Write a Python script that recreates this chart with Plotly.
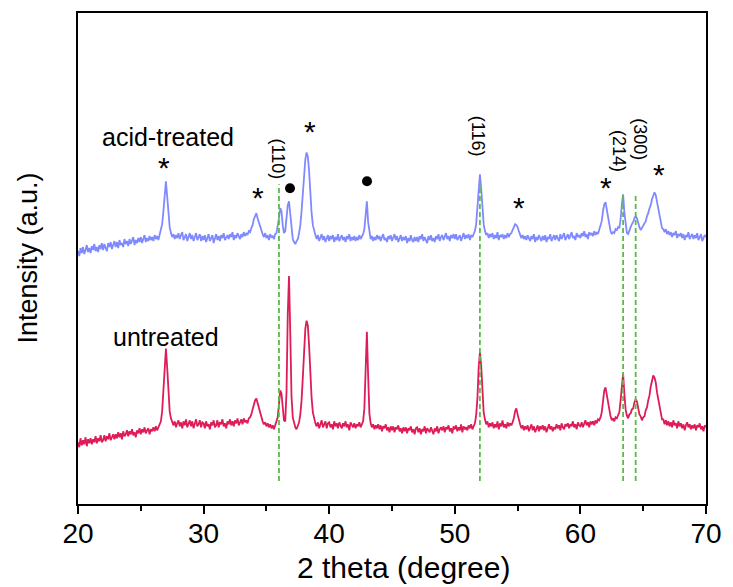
import numpy as np
import plotly.graph_objects as go

# ---------------- data ----------------
two_theta = np.round(np.arange(20.0, 70.0001, 0.1), 1)

acid_treated = [
    254, 249, 257, 252, 258, 251, 255, 260, 253, 257,
    252, 259, 255, 261, 254, 258, 253, 260, 256, 262,
    255, 261, 257, 254, 262, 258, 263, 256, 260, 264,
    258, 263, 257, 265, 260, 262, 258, 266, 261, 264,
    259, 266, 261, 264, 268, 260, 265, 262, 267, 263,
    268, 262, 266, 270, 263, 267, 264, 269, 265, 268,
    264, 270, 266, 269, 265, 270, 273, 281, 294, 313,
    324, 309, 290, 278, 272, 268, 271, 266, 270, 267,
    272, 266, 270, 273, 265, 269, 271, 264, 268, 272,
    266, 270, 264, 269, 272, 265, 268, 271, 264, 269,
    265, 270, 263, 268, 271, 264, 267, 270, 262, 268,
    271, 265, 269, 264, 270, 267, 272, 265, 268, 270,
    266, 271, 268, 273, 265, 270, 267, 272, 269, 266,
    271, 268, 273, 269, 272, 270, 274, 273, 277, 280,
    286, 289, 292, 287, 283, 277, 274, 271, 268, 272,
    267, 270, 265, 271, 268, 269, 266, 271, 272, 278,
    287, 297, 294, 280, 272, 274, 286, 300, 304, 289,
    274, 266, 263, 261, 264, 266, 272, 280, 294, 311,
    330, 346, 353, 349, 334, 311, 292, 280, 273, 270,
    266, 270, 264, 268, 271, 265, 269, 263, 267, 270,
    264, 269, 266, 270, 263, 268, 265, 271, 264, 267,
    270, 265, 268, 263, 269, 266, 271, 264, 268, 265,
    269, 264, 268, 265, 270, 266, 268, 271, 276, 288,
    304, 283, 271, 266, 269, 264, 268, 265, 270, 266,
    269, 264, 268, 271, 265, 267, 263, 269, 266, 270,
    264, 268, 271, 265, 269, 263, 267, 270, 264, 268,
    265, 269, 262, 267, 264, 270, 265, 263, 268, 264,
    268, 263, 269, 266, 271, 264, 268, 265, 262, 269,
    265, 270, 264, 267, 263, 269, 266, 271, 264, 268,
    270, 265, 268, 272, 266, 269, 264, 270, 267, 271,
    266, 271, 265, 268, 270, 264, 269, 272, 266, 270,
    267, 271, 265, 270, 268, 272, 274, 281, 297, 319,
    331, 317, 296, 281, 274, 270, 272, 267, 271, 268,
    272, 266, 270, 267, 273, 265, 270, 268, 271, 266,
    270, 267, 272, 268, 271, 272, 275, 278, 281, 280,
    278, 274, 271, 267, 270, 266, 269, 265, 270, 267,
    264, 269, 266, 271, 263, 268, 265, 270, 266, 264,
    269, 265, 270, 263, 268, 266, 271, 264, 267, 270,
    265, 270, 267, 264, 271, 266, 269, 272, 265, 268,
    271, 266, 270, 273, 267, 269, 265, 272, 268, 270,
    267, 272, 269, 274, 268, 271, 266, 273, 270, 272,
    269, 274, 270, 273, 271, 275, 278, 284, 294, 301,
    303, 296, 287, 279, 274, 271, 273, 272, 276, 275,
    278, 277, 286, 301, 311, 293, 279, 272, 271, 276,
    278, 281, 283, 287, 289, 287, 281, 278, 275, 277,
    279, 282, 284, 289, 292, 297, 300, 306, 310, 313,
    310, 303, 294, 287, 281, 277, 276, 273, 276, 271,
    274, 270, 273, 268, 272, 270, 274, 267, 271, 269,
    272, 267, 271, 265, 270, 268, 273, 266, 269, 271,
    266, 270, 267, 272, 265, 269, 271, 264, 268, 270,
    268,
]

untreated = [
    62, 57, 66, 59, 64, 60, 67, 58, 65, 61,
    66, 60, 65, 62, 68, 61, 66, 63, 69, 62,
    64, 69, 63, 68, 65, 71, 64, 67, 70, 65,
    70, 66, 72, 67, 71, 65, 73, 68, 70, 74,
    68, 73, 70, 75, 69, 72, 67, 74, 71, 76,
    70, 75, 72, 77, 71, 74, 76, 70, 75, 73,
    77, 73, 78, 74, 77, 79, 83, 93, 113, 140,
    156, 137, 109, 93, 86, 82, 79, 83, 77, 81,
    84, 78, 82, 76, 83, 79, 85, 77, 81, 84,
    78, 83, 76, 81, 85, 78, 80, 84, 77, 82,
    81, 76, 83, 78, 80, 75, 82, 79, 84, 77,
    79, 84, 77, 82, 80, 85, 78, 81, 76, 83,
    80, 85, 79, 83, 78, 84, 81, 86, 79, 82,
    85, 80, 86, 82, 84, 81, 86, 87, 90, 95,
    100, 104, 106, 101, 96, 90, 87, 83, 80, 82,
    78, 81, 77, 80, 76, 79, 75, 79, 81, 87,
    100, 114, 111, 95, 84, 83, 112, 190, 229, 172,
    108, 87, 80, 77, 75, 78, 82, 90, 104, 127,
    153, 176, 184, 179, 159, 130, 106, 92, 85, 81,
    78, 82, 76, 81, 84, 77, 80, 83, 76, 81,
    82, 77, 80, 75, 83, 78, 81, 76, 82, 79,
    76, 81, 78, 83, 77, 80, 74, 82, 79, 77,
    81, 76, 80, 78, 82, 77, 80, 83, 96, 134,
    173, 129, 91, 81, 77, 80, 75, 79, 76, 80,
    75, 79, 73, 78, 76, 80, 74, 77, 72, 78,
    74, 78, 72, 77, 75, 79, 73, 76, 71, 77,
    73, 77, 71, 76, 74, 78, 72, 75, 70, 76,
    77, 72, 76, 70, 75, 73, 78, 71, 76, 74,
    72, 77, 74, 70, 76, 73, 78, 71, 75, 77,
    74, 78, 72, 77, 75, 79, 73, 76, 71, 78,
    75, 79, 73, 77, 74, 80, 72, 78, 75, 77,
    74, 79, 76, 80, 75, 79, 81, 89, 106, 137,
    152, 139, 111, 92, 85, 80, 83, 77, 81, 78,
    82, 76, 80, 77, 83, 75, 81, 78, 84, 77,
    80, 76, 82, 78, 81, 79, 82, 86, 93, 96,
    90, 84, 80, 76, 79, 74, 78, 75, 79, 73,
    76, 80, 74, 78, 72, 77, 79, 73, 78, 75,
    79, 74, 78, 72, 77, 80, 75, 78, 73, 77,
    75, 80, 76, 79, 74, 81, 77, 75, 80, 78,
    81, 76, 80, 78, 83, 77, 80, 75, 82, 79,
    78, 82, 77, 81, 84, 79, 82, 77, 83, 80,
    83, 79, 84, 81, 85, 84, 87, 92, 103, 114,
    117, 110, 100, 92, 88, 84, 86, 83, 87, 86,
    90, 92, 104, 122, 131, 111, 95, 89, 86, 90,
    91, 95, 96, 102, 105, 103, 96, 90, 88, 84,
    87, 88, 94, 97, 104, 109, 118, 123, 129, 127,
    122, 112, 105, 95, 91, 85, 85, 80, 84, 79,
    83, 78, 82, 77, 84, 79, 81, 76, 83, 78,
    81, 76, 80, 74, 79, 82, 77, 80, 75, 79,
    76, 80, 74, 79, 77, 81, 75, 78, 73, 79,
    77,
]

# reflections marked with dashed lines
hkl_labels = ["(110)", "(116)", "(214)", "(300)"]
hkl_pos = [36.0, 52.0, 63.4, 64.4]
hkl_line_top = [321, 321, 312, 311]
hkl_line_bottom = [23, 23, 23, 23]
hkl_label_x = [35.91, 51.9, 63.03, 64.69]
hkl_label_y = [346, 369, 354, 366]

# phase markers
star_x = [26.82, 34.32, 38.46, 55.13, 62.03, 66.24]
star_y = [341, 311, 377, 301, 321, 334]
dot_x = [36.88, 43.01]
dot_y = [317, 324]

sample_names = ["acid-treated", "untreated"]
sample_label_x = [27.17, 27.0]
sample_label_y = [368, 168]

x_title = "2 theta (degree)"
y_title = "Intensity (a.u.)"

BLUE = "rgb(128,138,255)"
RED = "rgb(222,28,88)"
GREEN = "rgb(92,186,76)"
FONT = "Liberation Sans, Arial, sans-serif"

fig = go.Figure()

fig.add_trace(go.Scatter(x=two_theta, y=acid_treated, mode="lines",
                         line=dict(color=BLUE, width=1.8), name="acid-treated",
                         showlegend=False))
fig.add_trace(go.Scatter(x=two_theta, y=untreated, mode="lines",
                         line=dict(color=RED, width=1.8), name="untreated",
                         showlegend=False))

for xp, yt, yb in zip(hkl_pos, hkl_line_top, hkl_line_bottom):
    fig.add_trace(go.Scatter(x=[xp, xp], y=[yb, yt], mode="lines",
                             line=dict(color=GREEN, width=1.8, dash="5px,3px"),
                             showlegend=False, hoverinfo="skip"))

fig.add_trace(go.Scatter(x=dot_x, y=dot_y, mode="markers",
                         marker=dict(color="black", size=10, symbol="circle"),
                         showlegend=False))

for lab, lx, ly in zip(hkl_labels, hkl_label_x, hkl_label_y):
    fig.add_annotation(x=lx, y=ly, text=lab, showarrow=False, textangle=90,
                       font=dict(family=FONT, size=18, color="black"),
                       xanchor="center", yanchor="middle")

for sx, sy in zip(star_x, star_y):
    fig.add_annotation(x=sx, y=sy, text="*", showarrow=False, yshift=-3,
                       font=dict(family=FONT, size=30, color="black"),
                       xanchor="center", yanchor="middle")

for nm, nx, ny in zip(sample_names, sample_label_x, sample_label_y):
    fig.add_annotation(x=nx, y=ny, text=nm, showarrow=False,
                       font=dict(family=FONT, size=25, color="black"),
                       xanchor="center", yanchor="middle")

# axis titles
fig.add_annotation(xref="paper", yref="paper", x=0.5186, y=0, yshift=-63.5,
                   text=x_title, showarrow=False,
                   font=dict(family=FONT, size=30, color="black"),
                   xanchor="center", yanchor="middle")
fig.add_annotation(xref="paper", yref="paper", x=0, y=0.5, xshift=-51,
                   text=y_title, showarrow=False, textangle=-90,
                   font=dict(family=FONT, size=27, color="black"),
                   xanchor="center", yanchor="middle")

fig.update_layout(
    width=733, height=587,
    margin=dict(l=78, r=22.5, t=11, b=83),
    paper_bgcolor="white", plot_bgcolor="white",
    font=dict(family=FONT, color="black"),
    showlegend=False,
)

fig.update_xaxes(
    range=[20, 70], tickvals=[20, 30, 40, 50, 60, 70],
    ticks="outside", ticklen=8, tickwidth=2, tickcolor="black",
    minor=dict(dtick=5, ticks="outside", ticklen=5, tickwidth=2, tickcolor="black"),
    showline=True, linewidth=2, linecolor="black", mirror=True,
    showgrid=False, zeroline=False,
    tickfont=dict(family=FONT, size=28, color="black"),
    ticklabelstandoff=-5,
)
fig.update_yaxes(
    range=[0, 493], showticklabels=False, ticks="",
    showline=True, linewidth=2, linecolor="black", mirror=True,
    showgrid=False, zeroline=False,
)

fig.write_html("out.html")
